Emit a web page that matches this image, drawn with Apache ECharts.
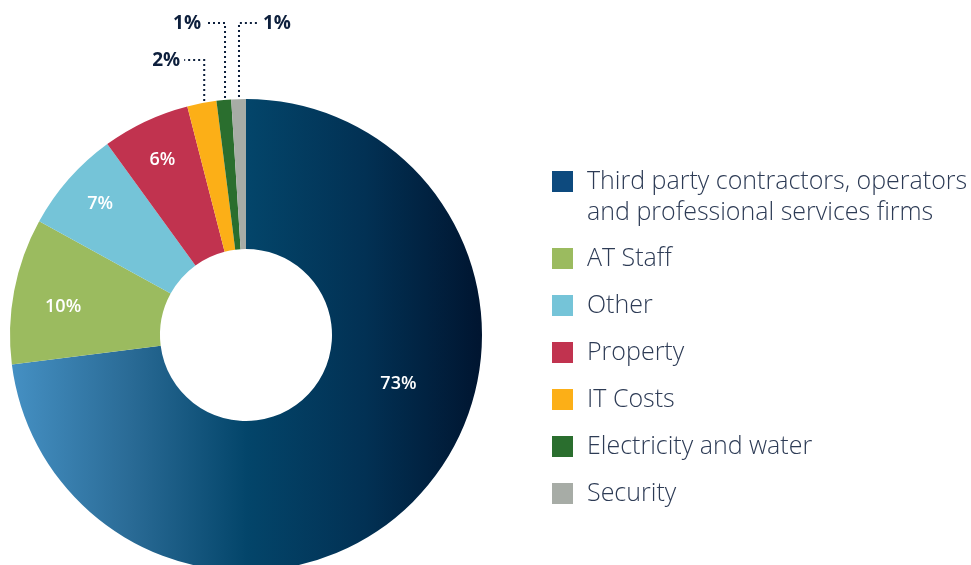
<!DOCTYPE html>
<html>
<head>
<meta charset="utf-8">
<script src="https://cdn.jsdelivr.net/npm/echarts@6/dist/echarts.min.js"></script>
<style>
html,body{margin:0;padding:0;background:#fff;}
#chart{width:971px;height:565px;}
</style>
</head>
<body>
<div id="chart"></div>
<script>
const categories = ['Third party contractors, operators and professional services firms', 'AT Staff', 'Other', 'Property', 'IT Costs', 'Electricity and water', 'Security'];
const values = [73, 10, 7, 6, 2, 1, 1];
const sliceColors = ['#0d4a7e', '#9bbb5f', '#75c4d8', '#c1334f', '#fcaf17', '#2a6e2e', '#a7aca6'];

const CX = 246, CY = 335, R0 = 86, R1 = 236;
const FONT = '"Open Sans", sans-serif';
const total = values.reduce((a, b) => a + b, 0);
const outsideIdx = [4, 5, 6];
// label placement (angle clockwise from top in degrees, radius) for inside labels
const insideLabelPolar = [[107.7, 160], [278.7, 185], [311.9, 196], [334.5, 194]];

function midAngle(i) {
  let s = 0;
  for (let j = 0; j < i; j++) s += values[j];
  return (s + values[i] / 2) / total * 2 * Math.PI; // clockwise from top
}
function polar(a, r) {
  return [CX + r * Math.sin(a), CY - r * Math.cos(a)];
}

const gradient = new echarts.graphic.LinearGradient(0, 0, 1, 0, [
  { offset: 0, color: '#4590c3' },
  { offset: 0.25, color: '#2a6b96' },
  { offset: 0.5, color: '#03456a' },
  { offset: 0.75, color: '#023154' },
  { offset: 1, color: '#001530' }
]);

const pieData = values.map((v, i) => {
  const d = { name: categories[i], value: v, itemStyle: { color: i === 0 ? gradient : sliceColors[i] } };
  if (outsideIdx.indexOf(i) >= 0) {
    d.label = { position: 'outside', color: '#0d1f3c', fontWeight: 'bold', fontSize: 19 };
    d.labelLine = { show: true, lineStyle: { color: '#0d1f3c', width: 2, type: [2, 3] } };
  }
  return d;
});

const legendTextA = { fontFamily: FONT, fontSize: 25, fontWeight: 300, color: '#2d3b55', lineHeight: 31, padding: [8, 0, 0, 9] };
const legendTextB = { fontFamily: FONT, fontSize: 25, fontWeight: 300, color: '#2d3b55', lineHeight: 31, padding: [4, 0, 0, 9] };

const chart = echarts.init(document.getElementById('chart'), null, { renderer: 'canvas' });
chart.setOption({
  backgroundColor: '#ffffff',
  animation: false,
  legend: [
    {
      data: [categories[0]],
      left: 552, top: 131, padding: 0,
      orient: 'vertical',
      itemWidth: 21, itemHeight: 21,
      icon: 'rect',
      itemStyle: { color: sliceColors[0] },
      formatter: () => ' \nThird party contractors, operators\nand professional services firms',
      textStyle: legendTextA,
      selectedMode: false
    },
    {
      data: categories.slice(1),
      left: 552, top: 241, padding: 0,
      orient: 'vertical',
      itemGap: 12,
      itemWidth: 21, itemHeight: 21,
      icon: 'rect',
      textStyle: legendTextB,
      selectedMode: false
    }
  ],
  series: [{
    type: 'pie',
    center: [CX, CY],
    radius: [R0, R1],
    startAngle: 90,
    clockwise: true,
    avoidLabelOverlap: false,
    label: {
      show: true,
      position: 'inside',
      formatter: '{c}%',
      color: '#ffffff',
      fontFamily: FONT,
      fontSize: 18,
      fontWeight: 600
    },
    labelLine: { show: false },
    labelLayout: function (p) {
      const i = p.dataIndex;
      if (i <= 3) {
        const lp = insideLabelPolar[i];
        const pt = polar(lp[0] / 180 * Math.PI, lp[1]);
        return { x: pt[0], y: pt[1], align: 'center', verticalAlign: 'middle' };
      }
      const base = polar(midAngle(i), 223);
      const topY = i === 4 ? 60 : 23;
      const dir = i === 6 ? 1 : -1;
      const endX = base[0] + dir * 20;
      return {
        x: endX + dir * 4,
        y: topY + 1,
        align: dir > 0 ? 'left' : 'right',
        verticalAlign: 'middle',
        labelLinePoints: [[base[0], base[1]], [base[0], topY], [endX, topY]]
      };
    },
    data: pieData
  }]
});
</script>
</body>
</html>
